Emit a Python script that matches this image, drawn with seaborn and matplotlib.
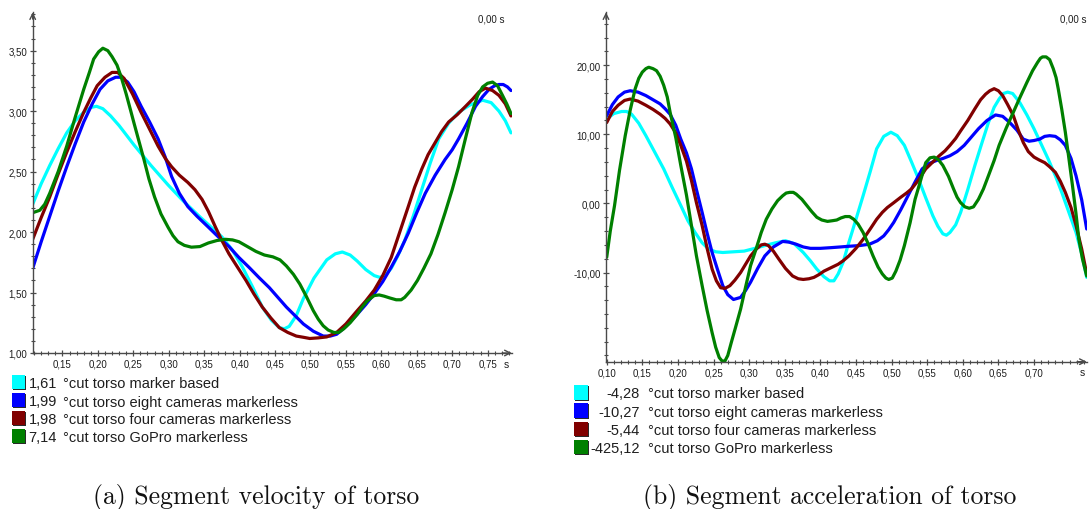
import numpy as np
import pandas as pd
import matplotlib
matplotlib.use("Agg")
import matplotlib.pyplot as plt
import seaborn as sns
from matplotlib.ticker import MultipleLocator, FixedLocator, FuncFormatter
from matplotlib.patches import Rectangle

# ---------------------------------------------------------------- data
SERIES = ["marker based", "eight cameras markerless",
          "four cameras markerless", "GoPro markerless"]
COLORS = ["#00FFFF", "#0000FF", "#800000", "#008000"]
VEL_READOUT = ["1,61", "1,99", "1,98", "7,14"]
ACC_READOUT = ["-4,28", "-10,27", "-5,44", "-425,12"]

# Segment velocity of torso
vel_t_marker = [0.108, 0.120, 0.132, 0.144, 0.156, 0.168, 0.180, 0.190, 0.198, 0.207,
                0.218, 0.230, 0.251, 0.275, 0.299, 0.320, 0.345, 0.375, 0.390, 0.404,
                0.418, 0.432, 0.445, 0.456, 0.463, 0.470, 0.480, 0.490, 0.505, 0.523,
                0.535, 0.545, 0.556, 0.566, 0.578, 0.590, 0.598, 0.606, 0.614, 0.623,
                0.633, 0.645, 0.657, 0.669, 0.681, 0.695, 0.709, 0.725, 0.743, 0.755,
                0.766, 0.775, 0.783]
vel_marker = [2.23, 2.40, 2.55, 2.69, 2.82, 2.92, 2.99, 3.03, 3.04, 3.02,
              2.96, 2.88, 2.72, 2.55, 2.39, 2.26, 2.12, 1.96, 1.85, 1.71,
              1.55, 1.38, 1.27, 1.21, 1.20, 1.22, 1.31, 1.45, 1.62, 1.77,
              1.82, 1.835, 1.81, 1.76, 1.69, 1.64, 1.625, 1.645, 1.70, 1.80,
              1.93, 2.13, 2.35, 2.57, 2.77, 2.90, 2.99, 3.05, 3.09, 3.07,
              3.00, 2.92, 2.82]

vel_t_eight = [0.108, 0.120, 0.132, 0.144, 0.156, 0.168, 0.180, 0.192, 0.203, 0.214,
               0.225, 0.233, 0.242, 0.251, 0.261, 0.273, 0.285, 0.295, 0.304, 0.315,
               0.327, 0.340, 0.356, 0.370, 0.385, 0.399, 0.413, 0.428, 0.442, 0.454,
               0.466, 0.478, 0.490, 0.504, 0.518, 0.528, 0.537, 0.550, 0.566, 0.578,
               0.590, 0.602, 0.614, 0.626, 0.638, 0.650, 0.662, 0.676, 0.690, 0.700,
               0.709, 0.721, 0.733, 0.743, 0.752, 0.760, 0.766, 0.772, 0.778, 0.783]
vel_eight = [1.70, 1.92, 2.13, 2.34, 2.54, 2.73, 2.91, 3.06, 3.18, 3.25,
             3.28, 3.28, 3.24, 3.16, 3.04, 2.91, 2.77, 2.62, 2.46, 2.32,
             2.21, 2.13, 2.04, 1.96, 1.88, 1.79, 1.71, 1.62, 1.54, 1.46,
             1.38, 1.31, 1.24, 1.18, 1.14, 1.14, 1.155, 1.22, 1.32, 1.40,
             1.49, 1.59, 1.71, 1.84, 1.99, 2.16, 2.32, 2.47, 2.60, 2.68,
             2.77, 2.90, 3.04, 3.12, 3.18, 3.21, 3.22, 3.22, 3.20, 3.17]

vel_t_four = [0.108, 0.120, 0.132, 0.144, 0.156, 0.168, 0.180, 0.190, 0.199, 0.210,
              0.220, 0.228, 0.237, 0.249, 0.261, 0.273, 0.285, 0.295, 0.304, 0.315,
              0.327, 0.337, 0.347, 0.356, 0.366, 0.375, 0.385, 0.397, 0.409, 0.420,
              0.432, 0.444, 0.456, 0.468, 0.480, 0.490, 0.499, 0.511, 0.523, 0.537,
              0.550, 0.566, 0.578, 0.590, 0.602, 0.614, 0.626, 0.638, 0.647, 0.657,
              0.666, 0.676, 0.685, 0.695, 0.707, 0.719, 0.729, 0.738, 0.747, 0.757,
              0.766, 0.775, 0.783]
vel_four = [1.94, 2.12, 2.29, 2.48, 2.66, 2.83, 2.99, 3.11, 3.21, 3.28,
            3.32, 3.32, 3.27, 3.14, 2.99, 2.85, 2.71, 2.61, 2.54, 2.47,
            2.41, 2.35, 2.27, 2.17, 2.04, 1.93, 1.82, 1.71, 1.60, 1.49,
            1.38, 1.29, 1.21, 1.17, 1.14, 1.13, 1.12, 1.125, 1.133, 1.17,
            1.24, 1.35, 1.43, 1.52, 1.64, 1.79, 2.00, 2.21, 2.37, 2.52,
            2.64, 2.74, 2.83, 2.91, 2.97, 3.04, 3.10, 3.16, 3.19, 3.17,
            3.13, 3.06, 2.96]

vel_t_gopro = [0.108, 0.118, 0.125, 0.132, 0.144, 0.156, 0.168, 0.180, 0.188, 0.194,
               0.201, 0.207, 0.214, 0.220, 0.227, 0.233, 0.240, 0.246, 0.251, 0.258,
               0.265, 0.272, 0.280, 0.289, 0.299, 0.306, 0.313, 0.322, 0.332, 0.344,
               0.356, 0.368, 0.380, 0.390, 0.399, 0.411, 0.423, 0.435, 0.447, 0.457,
               0.466, 0.476, 0.485, 0.494, 0.504, 0.511, 0.518, 0.525, 0.533, 0.540,
               0.547, 0.556, 0.566, 0.573, 0.580, 0.590, 0.597, 0.604, 0.612, 0.621,
               0.628, 0.633, 0.642, 0.651, 0.660, 0.670, 0.680, 0.690, 0.700, 0.709,
               0.719, 0.728, 0.736, 0.743, 0.750, 0.757, 0.764, 0.771, 0.777, 0.783]
vel_gopro = [2.16, 2.18, 2.23, 2.32, 2.50, 2.71, 2.95, 3.18, 3.32, 3.43,
             3.49, 3.52, 3.50, 3.45, 3.38, 3.28, 3.14, 3.01, 2.90, 2.75,
             2.60, 2.44, 2.29, 2.15, 2.04, 1.97, 1.92, 1.89, 1.875, 1.88,
             1.91, 1.93, 1.94, 1.935, 1.92, 1.88, 1.84, 1.81, 1.795, 1.77,
             1.72, 1.65, 1.57, 1.47, 1.35, 1.28, 1.225, 1.19, 1.17, 1.17,
             1.20, 1.25, 1.32, 1.38, 1.43, 1.475, 1.48, 1.47, 1.455, 1.44,
             1.44, 1.46, 1.52, 1.60, 1.70, 1.82, 1.98, 2.16, 2.35, 2.54,
             2.78, 2.99, 3.13, 3.20, 3.23, 3.24, 3.21, 3.13, 3.06, 2.98]

# Segment acceleration of torso
acc_t_marker = [0.100, 0.110, 0.121, 0.128, 0.135, 0.145, 0.155, 0.167, 0.180, 0.192,
                0.204, 0.214, 0.224, 0.234, 0.243, 0.253, 0.263, 0.278, 0.293, 0.308,
                0.322, 0.337, 0.351, 0.363, 0.376, 0.386, 0.395, 0.405, 0.413, 0.419,
                0.425, 0.432, 0.440, 0.450, 0.460, 0.470, 0.479, 0.489, 0.499, 0.508,
                0.518, 0.528, 0.538, 0.548, 0.558, 0.565, 0.572, 0.577, 0.582, 0.590,
                0.597, 0.607, 0.617, 0.627, 0.636, 0.644, 0.651, 0.657, 0.663, 0.670,
                0.680, 0.690, 0.700, 0.710, 0.720, 0.730, 0.739, 0.749, 0.759, 0.767,
                0.774]
acc_marker = [12.2, 13.0, 13.3, 13.3, 12.9, 11.6, 9.8, 7.5, 5.0, 2.3,
              -0.3, -2.5, -4.2, -5.7, -6.6, -7.0, -7.1, -7.0, -6.9, -6.5,
              -6.1, -5.7, -5.4, -5.8, -7.1, -8.3, -9.5, -10.6, -11.2, -11.2,
              -10.2, -8.5, -5.65, -2.3, 1.1, 4.6, 7.9, 9.7, 10.3, 9.8,
              8.4, 6.0, 3.5, 0.8, -1.8, -3.3, -4.4, -4.6, -4.2, -3.1,
              -1.3, 2.0, 5.5, 8.8, 11.7, 13.9, 15.1, 15.9, 16.1, 15.9,
              14.6, 12.8, 10.8, 8.6, 6.4, 4.0, 1.6, -1.3, -4.2, -7.3,
              -10.7]

acc_t_eight = [0.100, 0.108, 0.116, 0.125, 0.133, 0.144, 0.155, 0.165, 0.175, 0.182,
               0.189, 0.197, 0.204, 0.212, 0.219, 0.226, 0.234, 0.241, 0.248, 0.256,
               0.263, 0.270, 0.278, 0.288, 0.295, 0.302, 0.312, 0.322, 0.334, 0.347,
               0.356, 0.366, 0.376, 0.386, 0.400, 0.415, 0.428, 0.440, 0.455, 0.469,
               0.480, 0.489, 0.496, 0.503, 0.513, 0.523, 0.533, 0.543, 0.553, 0.563,
               0.572, 0.582, 0.592, 0.602, 0.612, 0.622, 0.634, 0.646, 0.656, 0.666,
               0.676, 0.685, 0.693, 0.700, 0.708, 0.715, 0.722, 0.730, 0.737, 0.744,
               0.752, 0.759, 0.767, 0.774]
acc_eight = [12.7, 14.3, 15.4, 16.1, 16.3, 16.1, 15.6, 15.0, 14.4, 13.7,
             12.9, 11.3, 9.3, 7.3, 5.0, 2.0, -1.3, -4.3, -7.1, -9.7,
             -11.9, -13.2, -13.9, -13.6, -12.6, -11.4, -9.4, -7.6, -6.3, -5.5,
             -5.6, -5.9, -6.3, -6.5, -6.5, -6.4, -6.3, -6.2, -6.1, -5.9,
             -5.4, -4.7, -3.8, -2.75, -0.9, 1.1, 3.1, 5.0, 5.8, 6.2,
             6.5, 6.9, 7.5, 8.4, 9.6, 10.8, 12.0, 12.8, 12.6, 11.7,
             10.6, 9.3, 9.0, 9.1, 9.3, 9.7, 9.8, 9.7, 9.2, 8.4,
             6.5, 4.0, 0.5, -3.7]

acc_t_four = [0.100, 0.108, 0.116, 0.125, 0.133, 0.144, 0.155, 0.165, 0.175, 0.182,
              0.189, 0.197, 0.204, 0.212, 0.219, 0.226, 0.234, 0.241, 0.248, 0.254,
              0.260, 0.266, 0.273, 0.280, 0.288, 0.295, 0.302, 0.310, 0.317, 0.322,
              0.327, 0.334, 0.342, 0.351, 0.361, 0.369, 0.376, 0.384, 0.391, 0.398,
              0.405, 0.415, 0.425, 0.432, 0.440, 0.450, 0.460, 0.470, 0.479, 0.487,
              0.494, 0.503, 0.513, 0.521, 0.528, 0.538, 0.548, 0.558, 0.567, 0.575,
              0.582, 0.590, 0.597, 0.607, 0.617, 0.625, 0.632, 0.638, 0.644, 0.650,
              0.656, 0.663, 0.671, 0.678, 0.685, 0.692, 0.700, 0.707, 0.715, 0.722,
              0.730, 0.737, 0.744, 0.752, 0.759, 0.767, 0.774]
acc_four = [11.7, 13.3, 14.2, 14.9, 15.1, 14.8, 14.2, 13.6, 12.9, 12.3,
            11.5, 10.2, 8.4, 6.1, 3.3, 0.1, -3.2, -6.5, -9.5, -11.2,
            -12.2, -12.3, -11.9, -11.1, -10.0, -8.8, -7.6, -6.6, -6.0, -5.9,
            -6.1, -6.9, -8.1, -9.4, -10.5, -10.9, -11.0, -10.9, -10.7, -10.3,
            -9.8, -9.3, -8.8, -8.3, -7.6, -6.5, -5.2, -3.7, -2.3, -1.3,
            -0.6, 0.1, 0.9, 1.5, 2.1, 3.4, 5.0, 6.0, 6.9, 7.6,
            8.4, 9.4, 10.5, 12.0, 13.7, 15.0, 15.8, 16.3, 16.6, 16.3,
            15.6, 14.3, 12.7, 10.6, 8.8, 7.5, 6.7, 6.3, 5.9, 5.3,
            4.5, 3.2, 1.6, -0.6, -3.2, -6.6, -10.2]

acc_t_gopro = [0.100, 0.105, 0.111, 0.118, 0.126, 0.133, 0.140, 0.145, 0.150, 0.155,
               0.159, 0.165, 0.170, 0.175, 0.180, 0.185, 0.189, 0.197, 0.204, 0.212,
               0.219, 0.226, 0.234, 0.241, 0.248, 0.253, 0.258, 0.262, 0.266, 0.270,
               0.275, 0.281, 0.288, 0.295, 0.302, 0.310, 0.317, 0.324, 0.332, 0.340,
               0.347, 0.352, 0.357, 0.362, 0.366, 0.374, 0.381, 0.388, 0.395, 0.402,
               0.410, 0.417, 0.423, 0.429, 0.435, 0.441, 0.447, 0.453, 0.460, 0.467,
               0.474, 0.481, 0.487, 0.492, 0.496, 0.501, 0.506, 0.512, 0.518, 0.526,
               0.533, 0.541, 0.548, 0.554, 0.560, 0.566, 0.572, 0.580, 0.587, 0.592,
               0.597, 0.603, 0.609, 0.615, 0.622, 0.629, 0.636, 0.644, 0.651, 0.661,
               0.671, 0.681, 0.690, 0.698, 0.705, 0.709, 0.712, 0.717, 0.722, 0.727,
               0.731, 0.734, 0.739, 0.744, 0.749, 0.754, 0.759, 0.763, 0.768, 0.774]
acc_gopro = [-7.8, -4.0, -0.3, 4.8, 9.8, 13.5, 16.6, 18.1, 19.0, 19.5,
             19.7, 19.5, 19.2, 18.4, 17.1, 15.4, 13.2, 9.5, 5.5, 1.2,
             -3.2, -7.6, -11.9, -15.5, -18.7, -20.8, -22.3, -22.8, -22.8, -22.0,
             -20.1, -17.9, -15.3, -12.1, -9.0, -6.5, -4.2, -2.3, -0.8, 0.4,
             1.1, 1.5, 1.6, 1.6, 1.35, 0.6, -0.3, -1.2, -2.0, -2.4,
             -2.6, -2.5, -2.4, -2.1, -1.9, -1.9, -2.3, -3.0, -4.2, -5.8,
             -7.6, -9.2, -10.2, -10.8, -11.0, -10.8, -9.8, -8.2, -6.1, -2.8,
             0.6, 3.4, 5.9, 6.6, 6.7, 6.3, 5.5, 3.9, 2.1, 0.9,
             0.1, -0.5, -0.7, -0.5, 0.6, 2.1, 4.0, 6.2, 8.4, 10.9,
             13.2, 15.5, 17.5, 19.2, 20.4, 21.0, 21.2, 21.2, 20.8, 19.5,
             18.2, 16.6, 13.6, 10.3, 6.5, 2.6, -1.5, -5.2, -8.0, -10.5]

vel_ticks = [0.15, 0.20, 0.25, 0.30, 0.35, 0.40, 0.45, 0.50, 0.55, 0.60, 0.65, 0.70, 0.75]
acc_ticks = [0.10, 0.15, 0.20, 0.25, 0.30, 0.35, 0.40, 0.45, 0.50, 0.55, 0.60, 0.65, 0.70]
vel_yticks = [1.0, 1.5, 2.0, 2.5, 3.0, 3.5]
acc_yticks = [-10, 0, 10, 20]


def long_frame(pairs):
    parts = []
    for name, (t, v) in zip(SERIES, pairs):
        parts.append(pd.DataFrame({"t": t, "value": v, "series": name}))
    return pd.concat(parts, ignore_index=True)


vel_df = long_frame([(vel_t_marker, vel_marker), (vel_t_eight, vel_eight),
                     (vel_t_four, vel_four), (vel_t_gopro, vel_gopro)])
acc_df = long_frame([(acc_t_marker, acc_marker), (acc_t_eight, acc_eight),
                     (acc_t_four, acc_four), (acc_t_gopro, acc_gopro)])

# ---------------------------------------------------------------- style
sns.set_theme(style="white")
plt.rcParams["font.family"] = ["Liberation Sans", "DejaVu Sans"]

W, H = 1091, 510
fig = plt.figure(figsize=(W / 100, H / 100), dpi=100)
fig.patch.set_facecolor("white")

AX_COLOR = "#4a4a4a"
TXT_COLOR = "#1e1e1e"


def fx(x):
    return x / W


def fy(y):
    return 1 - y / H


def comma(v, _pos=None):
    return f"{v:.2f}".replace(".", ",")


def style_axes(ax, xticks, yticks, xminor, yminor):
    for side in ("top", "right"):
        ax.spines[side].set_visible(False)
    for side in ("left", "bottom"):
        ax.spines[side].set_color(AX_COLOR)
        ax.spines[side].set_linewidth(1.0)
    ax.xaxis.set_major_locator(FixedLocator(xticks))
    ax.yaxis.set_major_locator(FixedLocator(yticks))
    ax.xaxis.set_minor_locator(MultipleLocator(xminor))
    ax.yaxis.set_minor_locator(MultipleLocator(yminor))
    ax.xaxis.set_major_formatter(FuncFormatter(comma))
    ax.yaxis.set_major_formatter(FuncFormatter(comma))
    ax.tick_params(which="major", direction="inout", length=5, width=0.9,
                   color=AX_COLOR, labelsize=7, labelcolor=TXT_COLOR, pad=1.5)
    ax.tick_params(which="minor", direction="inout", length=3, width=0.8,
                   color=AX_COLOR)
    ax.tick_params(axis="x", which="both", bottom=True)
    ax.tick_params(axis="y", which="both", left=True)
    ax.set_xlabel("")
    ax.set_ylabel("")
    ax.grid(False)
    ax.set_facecolor("white")
    arrow = dict(arrowstyle="->", color=AX_COLOR, lw=1.0,
                 shrinkA=0, shrinkB=0, mutation_scale=10)
    ax.annotate("", xy=(1.0, 0.0), xytext=(0.98, 0.0),
                xycoords="axes fraction", arrowprops=arrow, annotation_clip=False)
    ax.annotate("", xy=(0.0, 1.0), xytext=(0.0, 0.98),
                xycoords="axes fraction", arrowprops=arrow, annotation_clip=False)


palette = dict(zip(SERIES, COLORS))

# ---------------------------------------------------------------- velocity
ax1 = fig.add_axes([fx(32.7), fy(354.0), fx(511.7 - 32.7), (354.0 - 13.3) / H])
sns.lineplot(data=vel_df, x="t", y="value", hue="series", hue_order=SERIES,
             palette=palette, estimator=None, sort=False, linewidth=2.3,
             legend=False, ax=ax1)
ax1.set_xlim(0.108, 0.784)
ax1.set_ylim(1.0, 3.817)
style_axes(ax1, vel_ticks, vel_yticks, 0.01, 0.1)

# ---------------------------------------------------------------- acceleration
ax2 = fig.add_axes([fx(606.0), fy(362.7), fx(1086.7 - 606.0), (362.7 - 13.3) / H])
sns.lineplot(data=acc_df, x="t", y="value", hue="series", hue_order=SERIES,
             palette=palette, estimator=None, sort=False, linewidth=2.3,
             legend=False, ax=ax2)
ax2.set_xlim(0.099, 0.774)
ax2.set_ylim(-22.9, 27.65)
style_axes(ax2, acc_ticks, acc_yticks, 0.01, 2)

# cursor readouts and time-unit labels
fig.text(fx(505), fy(20), "0,00 s", ha="right", va="center", fontsize=7, color=TXT_COLOR)
fig.text(fx(1087), fy(20), "0,00 s", ha="right", va="center", fontsize=7, color=TXT_COLOR)
fig.text(fx(506), fy(365), "s", ha="center", va="center", fontsize=7.5, color=TXT_COLOR)
fig.text(fx(1082), fy(373), "s", ha="center", va="center", fontsize=7.5, color=TXT_COLOR)


# ---------------------------------------------------------------- legends
def legend_rows(sq_x0, sq_x1, y0, step, sq_h, val_x, val_ha, lab_x, readouts):
    for i, (name, col, val) in enumerate(zip(SERIES, COLORS, readouts)):
        yc = y0 + step * i
        w = sq_x1 - sq_x0
        shadow = Rectangle((fx(sq_x0 + 1.0), fy(yc + sq_h / 2 + 1.0)), w / W, sq_h / H,
                           transform=fig.transFigure, facecolor="#2a2a2a",
                           edgecolor="none")
        square = Rectangle((fx(sq_x0), fy(yc + sq_h / 2)), w / W, sq_h / H,
                           transform=fig.transFigure, facecolor=col, edgecolor="none")
        fig.add_artist(shadow)
        fig.add_artist(square)
        fig.text(fx(val_x), fy(yc + 5.2), val, ha=val_ha, va="baseline",
                 fontsize=10.5, color=TXT_COLOR)
        fig.text(fx(lab_x), fy(yc + 5.2), "\u00b0cut torso " + name, ha="left",
                 va="baseline", fontsize=10.5, color=TXT_COLOR)


legend_rows(12.0, 24.5, 383.3, 18.0, 14.0, 28.5, "left", 63.0, VEL_READOUT)
legend_rows(574.0, 587.5, 393.3, 18.3, 14.5, 640.0, "right", 648.3, ACC_READOUT)

# ---------------------------------------------------------------- captions
fig.text(fx(256), fy(504), "(a) Segment velocity of torso", ha="center",
         va="baseline", fontsize=18.5, fontfamily="cmr10", color="#111111")
fig.text(fx(830), fy(504), "(b) Segment acceleration of torso", ha="center",
         va="baseline", fontsize=18.5, fontfamily="cmr10", color="#111111")

fig.savefig("out.png", dpi=100, facecolor="white")
